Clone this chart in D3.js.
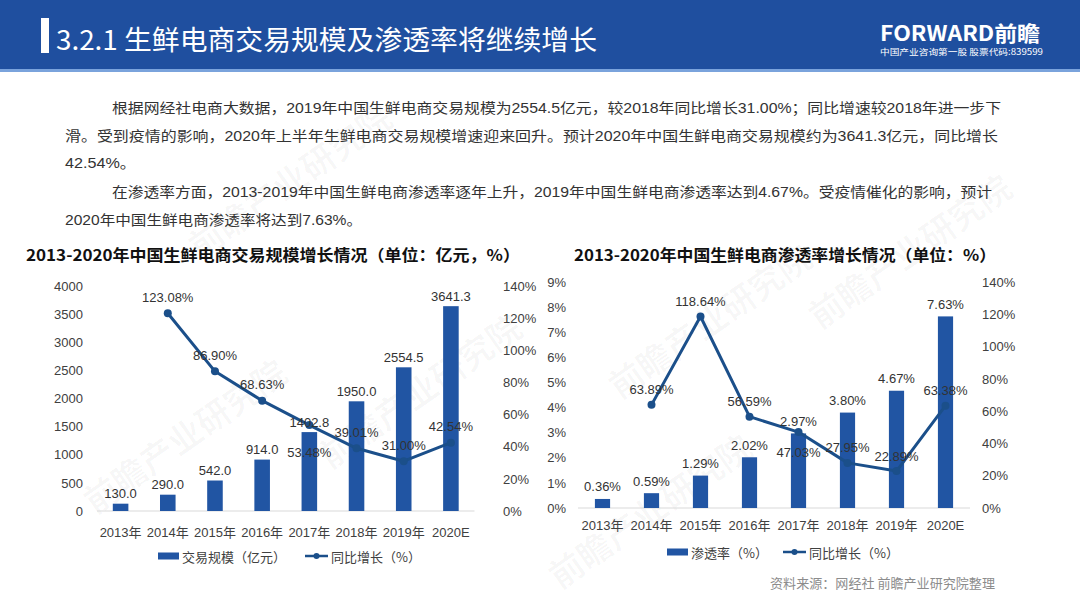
<!DOCTYPE html>
<html><head><meta charset="utf-8">
<script src="https://cdn.jsdelivr.net/npm/d3@7"></script>
<style>
html,body{margin:0;padding:0;background:#fff;}
svg{display:block;font-family:"Liberation Sans","Noto Sans CJK SC",Arial,sans-serif;}
</style></head>
<body>
<svg id="c" width="1080" height="607"></svg>
<script>
// ---------- data ----------
const categories = ["2013年","2014年","2015年","2016年","2017年","2018年","2019年","2020E"];
const tradeScale = [130.0, 290.0, 542.0, 914.0, 1402.8, 1950.0, 2554.5, 3641.3];
const tradeGrowth = [null, 123.08, 86.90, 68.63, 53.48, 39.01, 31.00, 42.54];
const penetration = [0.36, 0.59, 1.29, 2.02, 2.97, 3.80, 4.67, 7.63];
const penGrowth = [null, 63.89, 118.64, 56.59, 47.03, 27.95, 22.89, 63.38];
const leftTicks = [0,500,1000,1500,2000,2500,3000,3500,4000];
const rightTicks = [0,20,40,60,80,100,120,140];
const penTicks = [0,1,2,3,4,5,6,7,8,9];

const titleText = "3.2.1 生鲜电商交易规模及渗透率将继续增长";
const paragraph = [
  "根据网经社电商大数据，2019年中国生鲜电商交易规模为2554.5亿元，较2018年同比增长31.00%；同比增速较2018年进一步下",
  "滑。受到疫情的影响，2020年上半年生鲜电商交易规模增速迎来回升。预计2020年中国生鲜电商交易规模约为3641.3亿元，同比增长",
  "42.54%。",
  "在渗透率方面，2013-2019年中国生鲜电商渗透率逐年上升，2019年中国生鲜电商渗透率达到4.67%。受疫情催化的影响，预计",
  "2020年中国生鲜电商渗透率将达到7.63%。"
];

const svg = d3.select("#c");
const BLUE = "#2155a3", LINE = "#1b4f8a", TXT = "#333";
const CJK = "'Noto Sans CJK SC','Liberation Sans',sans-serif";
const LAT = "'Liberation Sans','Noto Sans CJK SC',Arial,sans-serif";

// ---------- faint watermarks ----------
const wm = [[95,515],[330,470],[620,400],[820,330],[200,260],[560,590]];
wm.forEach(([x,y])=>{
  svg.append("text").attr("transform",`translate(${x},${y}) rotate(-35)`).attr("fill","#000").attr("fill-opacity",0.03)
    .attr("font-size",34).attr("font-weight","bold").style("font-family",CJK).text("前瞻产业研究院");
});

// ---------- header ----------
svg.append("rect").attr("x",0).attr("y",0).attr("width",1080).attr("height",69).attr("fill","#1f4f9f");
svg.append("rect").attr("x",0).attr("y",69).attr("width",1080).attr("height",3).attr("fill","#7aa3dc");
svg.append("rect").attr("x",41).attr("y",18).attr("width",8).attr("height",35).attr("fill","#fff");
svg.append("text").attr("x",56).attr("y",50).attr("fill","#fff").style("font-family",CJK)
  .attr("font-size",27).attr("textLength",541).attr("lengthAdjust","spacingAndGlyphs").text(titleText);
svg.append("text").attr("x",880).attr("y",41).attr("fill","#fff").attr("font-weight","bold")
  .attr("font-size",21).attr("textLength",160).attr("lengthAdjust","spacingAndGlyphs").style("font-family",CJK).text("FORWARD前瞻");
svg.append("text").attr("x",880).attr("y",55).attr("fill","#fff")
  .attr("font-size",8.5).attr("textLength",163).attr("lengthAdjust","spacingAndGlyphs").style("font-family",CJK).text("中国产业咨询第一股  股票代码:839599");

// ---------- paragraph ----------
const pLines = [
  {x:112, y:113, w:889}, {x:65, y:141, w:933}, {x:65, y:168, w:71},
  {x:112, y:197, w:880}, {x:65, y:225, w:297}
];
paragraph.forEach((t,i)=>{
  svg.append("text").attr("x",pLines[i].x).attr("y",pLines[i].y).attr("fill","#333")
    .attr("font-size",14).style("font-family",LAT)
    .attr("textLength",pLines[i].w).attr("lengthAdjust","spacingAndGlyphs").text(t);
});

// ---------- chart builder ----------
function buildChart(cfg){
  const g = svg.append("g");
  const x = d3.scaleBand().domain(categories).range(cfg.xr).paddingInner(cfg.pad).paddingOuter(cfg.pad/2);
  const yL = d3.scaleLinear().domain(cfg.yLdom).range(cfg.yr);
  const yR = d3.scaleLinear().domain([0,140]).range(cfg.yr);

  g.append("text").attr("x",cfg.titleX).attr("y",261).attr("font-weight","bold").attr("fill","#111")
    .attr("font-size",16).style("font-family",CJK).attr("textLength",cfg.titleW).attr("lengthAdjust","spacingAndGlyphs").text(cfg.title);

  const ax = d3.axisLeft(yL).tickValues(cfg.lTicks).tickSize(0).tickPadding(0).tickFormat(cfg.lFmt);
  const axL = g.append("g").attr("transform",`translate(${cfg.lAxisX},0)`).call(ax);
  axL.select(".domain").remove();
  axL.selectAll("text").attr("font-size",13).attr("fill","#404040").style("font-family",LAT);

  const axr = d3.axisRight(yR).tickValues(rightTicks).tickSize(0).tickPadding(0).tickFormat(d=>d+"%");
  const axRg = g.append("g").attr("transform",`translate(${cfg.rAxisX},0)`).call(axr);
  axRg.select(".domain").remove();
  axRg.selectAll("text").attr("font-size",13).attr("fill","#404040").style("font-family",LAT);

  g.append("line").attr("x1",cfg.xr[0]).attr("x2",cfg.xr[1]).attr("y1",yL(0)).attr("y2",yL(0))
    .attr("stroke","#d9d9d9").attr("stroke-width",1);

  const axB = d3.axisBottom(x).tickSize(0).tickPadding(0);
  const axBg = g.append("g").attr("transform",`translate(0,${cfg.xLabY})`).call(axB);
  axBg.select(".domain").remove();
  axBg.selectAll("text").attr("font-size",13).attr("fill","#404040").attr("dy","0").attr("dominant-baseline","central").style("font-family",LAT);

  g.selectAll("rect.bar").data(cfg.bars).join("rect").attr("class","bar")
    .attr("x",(d,i)=>x(categories[i])).attr("width",x.bandwidth())
    .attr("y",d=>yL(d)).attr("height",d=>yL(0)-yL(d)).attr("fill",BLUE);

  const pts = cfg.line.map((v,i)=>({v,i})).filter(d=>d.v!==null);
  const cx = d=>x(categories[d.i])+x.bandwidth()/2;
  g.append("path").datum(pts).attr("fill","none").attr("stroke",LINE).attr("stroke-width",3)
    .attr("stroke-linejoin","round")
    .attr("d",d3.line().x(cx).y(d=>yR(d.v)));
  g.selectAll("circle.pt").data(pts).join("circle").attr("class","pt")
    .attr("cx",cx).attr("cy",d=>yR(d.v)).attr("r",4).attr("fill",LINE);

  g.selectAll("text.bl").data(cfg.bars).join("text").attr("class","bl")
    .attr("x",(d,i)=>x(categories[i])+x.bandwidth()/2).attr("y",d=>yL(d)-cfg.barLabOff)
    .attr("text-anchor","middle").attr("dominant-baseline","central")
    .attr("font-size",13).attr("fill",TXT).style("font-family",LAT)
    .text(cfg.barFmt);

  g.selectAll("text.ll").data(pts).join("text").attr("class","ll")
    .attr("x",cx).attr("y",d=>yR(d.v)+(cfg.below.includes(d.i)?cfg.belowOff:-cfg.aboveOff))
    .attr("text-anchor","middle").attr("dominant-baseline","central")
    .attr("font-size",13).attr("fill",TXT).style("font-family",LAT)
    .text(d=>d.v.toFixed(2)+"%");

  const L = cfg.legend;
  g.append("rect").attr("x",L.rx).attr("y",L.y-3.5).attr("width",21).attr("height",7).attr("fill",BLUE);
  g.append("text").attr("x",L.rx+24).attr("y",L.y).attr("dominant-baseline","central").attr("font-size",13)
    .attr("fill","#404040").style("font-family",CJK).text(L.t1);
  g.append("line").attr("x1",L.lx).attr("x2",L.lx+23).attr("y1",L.y).attr("y2",L.y).attr("stroke",LINE).attr("stroke-width",2.5);
  g.append("circle").attr("cx",L.lx+11.5).attr("cy",L.y).attr("r",3).attr("fill",LINE);
  g.append("text").attr("x",L.lx+26).attr("y",L.y).attr("dominant-baseline","central").attr("font-size",13)
    .attr("fill","#404040").style("font-family",CJK).text(L.t2);
}

buildChart({
  title:"2013-2020年中国生鲜电商交易规模增长情况（单位：亿元，%）", titleX:26, titleW:494,
  xr:[97,474.5], pad:0.67, yr:[511,286], yLdom:[0,4000],
  lTicks:leftTicks, lFmt:d=>d, lAxisX:83, rAxisX:503, xLabY:532,
  bars:tradeScale, barFmt:d=>d.toFixed(1), barLabOff:10,
  line:tradeGrowth, below:[4], belowOff:27, aboveOff:16,
  legend:{rx:158, lx:305, y:556, t1:"交易规模（亿元）", t2:"同比增长（%）"}
});

buildChart({
  title:"2013-2020年中国生鲜电商渗透率增长情况（单位：%）", titleX:574, titleW:422,
  xr:[578,970], pad:0.69, yr:[508,282], yLdom:[0,9],
  lTicks:penTicks, lFmt:d=>d+"%", lAxisX:566, rAxisX:982, xLabY:525,
  bars:penetration, barFmt:d=>d.toFixed(2)+"%", barLabOff:12,
  line:penGrowth, below:[4], belowOff:20, aboveOff:15,
  legend:{rx:667, lx:783, y:552, t1:"渗透率（%）", t2:"同比增长（%）"}
});

svg.append("text").attr("x",770).attr("y",588).attr("fill","#8c8c8c").attr("font-size",13)
  .style("font-family",CJK).attr("textLength",225).attr("lengthAdjust","spacingAndGlyphs").text("资料来源：网经社 前瞻产业研究院整理");
</script>
</body></html>
